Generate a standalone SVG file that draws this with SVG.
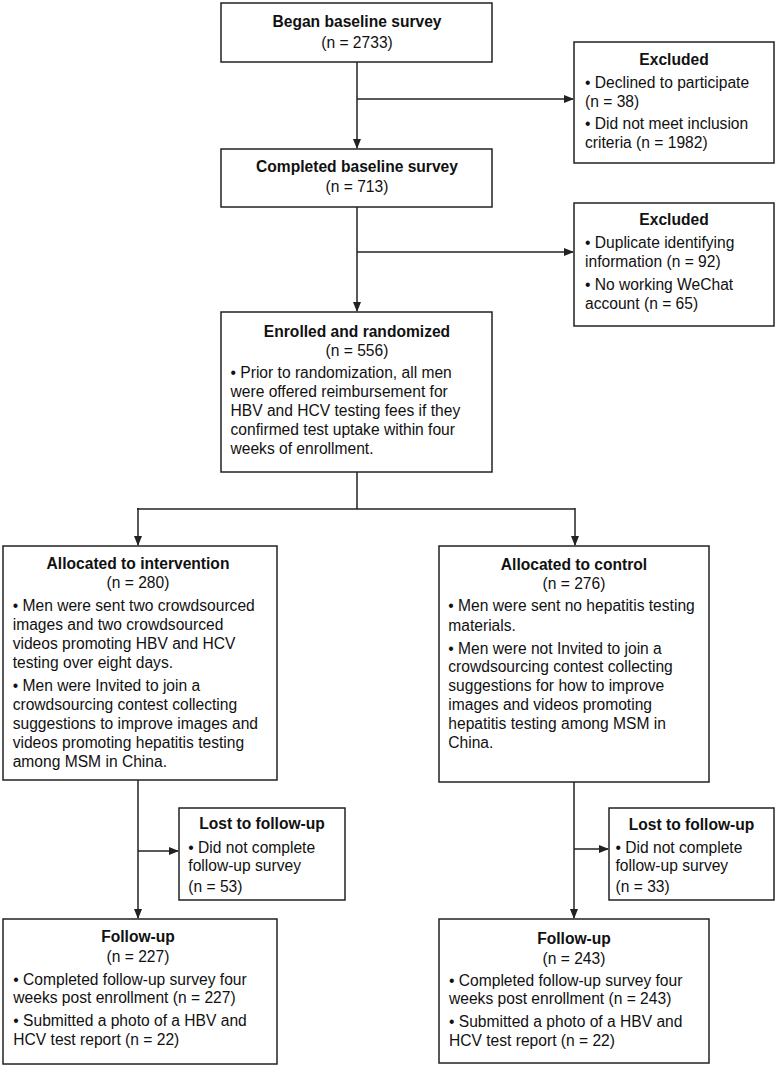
<svg xmlns="http://www.w3.org/2000/svg" width="778" height="1068" viewBox="0 0 778 1068">
<style>
.box{fill:#fff;stroke:#222;stroke-width:1.5}
text{font-family:"Liberation Sans",Arial,Helvetica,sans-serif;font-size:15.6px;fill:#111}
.t{font-weight:bold;text-anchor:middle}
.c{text-anchor:middle}
.ln{fill:none;stroke:#222;stroke-width:1.5}
</style>
<defs>
<marker id="ah" markerWidth="10" markerHeight="8" refX="9" refY="4" orient="auto" markerUnits="userSpaceOnUse">
<path d="M0,0 L10,4 L0,8 Z" fill="#222"/>
</marker>
</defs>
<rect width="778" height="1068" fill="#fff"/>
<g id="connectors">
<line class="ln" x1="357" y1="62" x2="357" y2="148" marker-end="url(#ah)"/>
<line class="ln" x1="357" y1="99" x2="573" y2="99" marker-end="url(#ah)"/>
<line class="ln" x1="357" y1="207" x2="357" y2="311" marker-end="url(#ah)"/>
<line class="ln" x1="357" y1="252" x2="573" y2="252" marker-end="url(#ah)"/>
<polyline class="ln" points="357,472 357,509"/>
<line class="ln" x1="137" y1="509" x2="575" y2="509"/>
<line class="ln" x1="138" y1="508" x2="138" y2="545" marker-end="url(#ah)"/>
<line class="ln" x1="575" y1="508" x2="575" y2="545" marker-end="url(#ah)"/>
<line class="ln" x1="138" y1="780" x2="138" y2="918" marker-end="url(#ah)"/>
<line class="ln" x1="138" y1="851" x2="178" y2="851" marker-end="url(#ah)"/>
<line class="ln" x1="574" y1="782" x2="574" y2="918" marker-end="url(#ah)"/>
<line class="ln" x1="574" y1="849" x2="608" y2="849" marker-end="url(#ah)"/>
</g>
<g id="began">
<rect class="box" x="221" y="3" width="271" height="59"/>
<text class="t" x="357" y="27">Began baseline survey</text>
<text class="c" x="357" y="48">(n = 2733)</text>
</g>
<g id="excluded1">
<rect class="box" x="574" y="42" width="200" height="121"/>
<text class="t" x="674" y="64.5">Excluded</text>
<text x="585" y="87.5">• Declined to participate</text>
<text x="585" y="106.5">(n = 38)</text>
<text x="585" y="128.5">• Did not meet inclusion</text>
<text x="585" y="147.5">criteria (n = 1982)</text>
</g>
<g id="completed">
<rect class="box" x="221" y="149" width="271" height="58"/>
<text class="t" x="357" y="172">Completed baseline survey</text>
<text class="c" x="357" y="192">(n = 713)</text>
</g>
<g id="excluded2">
<rect class="box" x="574" y="203" width="200" height="123"/>
<text class="t" x="674" y="225">Excluded</text>
<text x="585" y="248">• Duplicate identifying</text>
<text x="585" y="267">information (n = 92)</text>
<text x="585" y="290">• No working WeChat</text>
<text x="585" y="308.5">account (n = 65)</text>
</g>
<g id="enrolled">
<rect class="box" x="221" y="312" width="271" height="160"/>
<text class="t" x="357" y="336.5">Enrolled and randomized</text>
<text class="c" x="357" y="355.5">(n = 556)</text>
<text x="230.5" y="378">• Prior to randomization, all men</text>
<text x="230.5" y="397">were offered reimbursement for</text>
<text x="230.5" y="416">HBV and HCV testing fees if they</text>
<text x="230.5" y="435">confirmed test uptake within four</text>
<text x="230.5" y="454">weeks of enrollment.</text>
</g>
<g id="intervention">
<rect class="box" x="3" y="546" width="274" height="234"/>
<text class="t" x="138" y="569">Allocated to intervention</text>
<text class="c" x="138" y="588">(n = 280)</text>
<text x="12.7" y="611">• Men were sent two crowdsourced</text>
<text x="12.7" y="630">images and two crowdsourced</text>
<text x="12.7" y="649">videos promoting HBV and HCV</text>
<text x="12.7" y="668">testing over eight days.</text>
<text x="12.7" y="690.5">• Men were Invited to join a</text>
<text x="12.7" y="710">crowdsourcing contest collecting</text>
<text x="12.7" y="729">suggestions to improve images and</text>
<text x="12.7" y="747.5">videos promoting hepatitis testing</text>
<text x="12.7" y="766.5">among MSM in China.</text>
</g>
<g id="control">
<rect class="box" x="439" y="546" width="270" height="236"/>
<text class="t" x="574" y="569.5">Allocated to control</text>
<text class="c" x="574" y="589">(n = 276)</text>
<text x="448.3" y="611">• Men were sent no hepatitis testing</text>
<text x="448.3" y="630.5">materials.</text>
<text x="448.3" y="653.5">• Men were not Invited to join a</text>
<text x="448.3" y="672">crowdsourcing contest collecting</text>
<text x="448.3" y="691">suggestions for how to improve</text>
<text x="448.3" y="710">images and videos promoting</text>
<text x="448.3" y="729">hepatitis testing among MSM in</text>
<text x="448.3" y="748">China.</text>
</g>
<g id="lost1">
<rect class="box" x="179" y="808" width="166" height="92"/>
<text class="t" x="262" y="829">Lost to follow-up</text>
<text x="188.3" y="852.5">• Did not complete</text>
<text x="188.3" y="871">follow-up survey</text>
<text x="188.3" y="892">(n = 53)</text>
</g>
<g id="lost2">
<rect class="box" x="609" y="808" width="165" height="92"/>
<text class="t" x="691.5" y="829.5">Lost to follow-up</text>
<text x="615.5" y="852.5">• Did not complete</text>
<text x="615.5" y="871">follow-up survey</text>
<text x="615.5" y="892">(n = 33)</text>
</g>
<g id="followup1">
<rect class="box" x="3" y="919" width="274" height="145"/>
<text class="t" x="138" y="942">Follow-up</text>
<text class="c" x="138" y="962">(n = 227)</text>
<text x="13.3" y="984.5">• Completed follow-up survey four</text>
<text x="13.3" y="1003">weeks post enrollment (n = 227)</text>
<text x="13.3" y="1025.5">• Submitted a photo of a HBV and</text>
<text x="13.3" y="1044.5">HCV test report (n = 22)</text>
</g>
<g id="followup2">
<rect class="box" x="439" y="919" width="270" height="144"/>
<text class="t" x="574" y="943.5">Follow-up</text>
<text class="c" x="574" y="963.5">(n = 243)</text>
<text x="449" y="985.5">• Completed follow-up survey four</text>
<text x="449" y="1004">weeks post enrollment (n = 243)</text>
<text x="449" y="1026.5">• Submitted a photo of a HBV and</text>
<text x="449" y="1045.5">HCV test report (n = 22)</text>
</g>
</svg>
